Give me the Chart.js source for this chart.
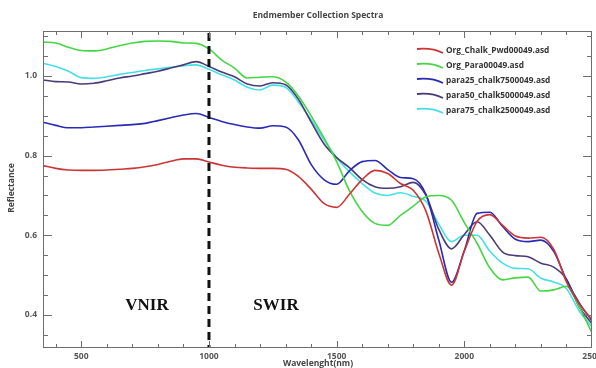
<!DOCTYPE html>
<html>
<head>
<meta charset="utf-8">
<script src="https://cdn.jsdelivr.net/npm/chart.js@4.4.1/dist/chart.umd.min.js"></script>
<style>
  html, body { margin: 0; padding: 0; background: #fff; }
  #wrap { width: 596px; height: 368px; }
</style>
</head>
<body>
<div id="wrap"><canvas id="spectra" width="596" height="368"></canvas></div>
<script>
// wavelengths (nm) shared by all spectra
const wavelengths = [350, 400, 450, 500, 550, 600, 650, 700, 750, 800, 850, 900, 950, 1000,
  1050, 1100, 1150, 1200, 1250, 1300, 1350, 1400, 1450, 1500, 1550, 1600, 1650, 1700, 1750,
  1800, 1850, 1900, 1950, 2000, 2050, 2100, 2150, 2200, 2250, 2300, 2350, 2400, 2450, 2500];

const orgChalk = [0.775, 0.768, 0.764, 0.763, 0.763, 0.764, 0.766, 0.768, 0.772, 0.778, 0.786, 0.792, 0.792, 0.784,
  0.776, 0.771, 0.769, 0.768, 0.768, 0.766, 0.748, 0.716, 0.680, 0.670, 0.703, 0.740, 0.763, 0.755, 0.730,
  0.713, 0.660, 0.555, 0.475, 0.560, 0.635, 0.652, 0.625, 0.598, 0.593, 0.595, 0.565, 0.483, 0.428, 0.388];

const orgPara = [1.085, 1.083, 1.072, 1.064, 1.063, 1.068, 1.076, 1.083, 1.087, 1.088, 1.087, 1.083, 1.082, 1.068,
  1.040, 1.020, 0.995, 0.997, 0.998, 0.985, 0.950, 0.900, 0.845, 0.785, 0.712, 0.660, 0.630, 0.625, 0.650,
  0.673, 0.697, 0.700, 0.688, 0.632, 0.580, 0.518, 0.488, 0.493, 0.495, 0.460, 0.463, 0.472, 0.420, 0.355];

const para25 = [0.884, 0.876, 0.870, 0.870, 0.872, 0.874, 0.876, 0.878, 0.881, 0.888, 0.895, 0.902, 0.906, 0.896,
  0.886, 0.878, 0.872, 0.869, 0.875, 0.872, 0.840, 0.778, 0.740, 0.728, 0.762, 0.785, 0.788, 0.765, 0.745,
  0.742, 0.702, 0.588, 0.482, 0.562, 0.655, 0.658, 0.622, 0.590, 0.584, 0.588, 0.560, 0.488, 0.430, 0.385];

const para50 = [0.990, 0.986, 0.985, 0.980, 0.982, 0.988, 0.995, 1.000, 1.006, 1.012, 1.020, 1.028, 1.036, 1.024,
  1.010, 0.998, 0.980, 0.975, 0.983, 0.978, 0.942, 0.885, 0.830, 0.795, 0.770, 0.740, 0.722, 0.718, 0.722,
  0.733, 0.700, 0.615, 0.566, 0.602, 0.634, 0.600, 0.558, 0.549, 0.546, 0.530, 0.520, 0.490, 0.420, 0.378];

const para75 = [1.032, 1.024, 1.012, 0.996, 0.994, 0.998, 1.004, 1.009, 1.014, 1.018, 1.022, 1.026, 1.028, 1.017,
  1.003, 0.990, 0.972, 0.965, 0.977, 0.972, 0.935, 0.890, 0.840, 0.795, 0.760, 0.730, 0.706, 0.700, 0.707,
  0.698, 0.685, 0.628, 0.584, 0.600, 0.600, 0.560, 0.530, 0.517, 0.516, 0.492, 0.483, 0.466, 0.410, 0.370];

const seriesNames = ['Org_Chalk_Pwd00049.asd', 'Org_Para00049.asd', 'para25_chalk7500049.asd',
  'para50_chalk5000049.asd', 'para75_chalk2500049.asd'];
const seriesColors = ['#cc3535', '#45d645', '#2a2ab8', '#4b3a78', '#45e0e6'];
const seriesValues = [orgChalk, orgPara, para25, para50, para75];

const xTickLabels = [500, 1000, 1500, 2000, 2500];
const yTickLabels = [0.4, 0.6, 0.8, 1.0];
const regionSplit = 1000;

const datasets = seriesValues.map((vals, i) => ({
  label: seriesNames[i],
  data: wavelengths.map((w, j) => ({ x: w, y: vals[j] })),
  borderColor: seriesColors[i],
  borderWidth: 1.6,
  pointRadius: 0,
  cubicInterpolationMode: 'monotone',
  fill: false
}));

// frame, inner ticks, titles, legend, VNIR/SWIR split
const decor = {
  id: 'decor',
  afterDatasetsDraw(chart) {
    const { ctx, chartArea: a, scales: { x, y } } = chart;
    ctx.save();

    // dashed split line
    const sx = x.getPixelForValue(regionSplit);
    ctx.strokeStyle = '#111';
    ctx.lineWidth = 3;
    ctx.setLineDash([8, 5]);
    ctx.beginPath();
    ctx.moveTo(sx, a.top + 2);
    ctx.lineTo(sx, a.bottom);
    ctx.stroke();
    ctx.setLineDash([]);

    // frame
    ctx.strokeStyle = '#6e6e6e';
    ctx.lineWidth = 1;
    ctx.strokeRect(a.left + 0.5, a.top + 0.5, a.right - a.left - 1, a.bottom - a.top - 1);

    // x ticks every 100 nm, bottom and top
    ctx.beginPath();
    for (let w = 400; w < 2500; w += 100) {
      const px = Math.round(x.getPixelForValue(w)) + 0.5;
      const len = w % 500 === 0 ? 7 : 4;
      ctx.moveTo(px, a.bottom); ctx.lineTo(px, a.bottom - len);
      ctx.moveTo(px, a.top); ctx.lineTo(px, a.top + len);
    }
    // y ticks every 0.05, left and right
    for (let k = 7; k <= 22; k++) {
      const v = k * 0.05;
      const py = Math.round(y.getPixelForValue(v)) + 0.5;
      const len = k % 4 === 0 ? 9 : 5;
      ctx.moveTo(a.left, py); ctx.lineTo(a.left + len, py);
      ctx.moveTo(a.right, py); ctx.lineTo(a.right - len, py);
    }
    ctx.stroke();

    // region labels
    ctx.fillStyle = '#111';
    ctx.font = 'bold 17px "Liberation Serif"';
    ctx.textAlign = 'center';
    ctx.textBaseline = 'middle';
    ctx.fillText('VNIR', 147, 306);
    ctx.fillText('SWIR', 276, 306);

    // titles
    ctx.fillStyle = '#444';
    ctx.font = 'bold 8.5px "Open Sans"';
    ctx.fillText('Endmember Collection Spectra', 318, 16);
    ctx.fillText('Wavelenght(nm)', 318, 364);
    ctx.save();
    ctx.translate(12, 188);
    ctx.rotate(-Math.PI / 2);
    ctx.fillText('Reflectance', 0, 0);
    ctx.restore();

    // legend
    ctx.textAlign = 'left';
    ctx.font = 'bold 8.3px "Open Sans"';
    seriesNames.forEach((name, i) => {
      const ly = 51 + i * 15;
      ctx.strokeStyle = seriesColors[i];
      ctx.lineWidth = 1.8;
      ctx.beginPath();
      ctx.moveTo(417, ly - 2);
      ctx.bezierCurveTo(427, ly - 3, 435, ly - 2, 443, ly + 2);
      ctx.stroke();
      ctx.fillStyle = '#333';
      ctx.fillText(name, 446, ly);
    });

    ctx.restore();
  }
};

new Chart(document.getElementById('spectra'), {
  type: 'line',
  data: { datasets },
  options: {
    responsive: false,
    animation: false,
    layout: { padding: { top: 31, right: 4, left: 0, bottom: 0 } },
    plugins: { legend: { display: false }, title: { display: false }, tooltip: { enabled: false } },
    scales: {
      x: {
        type: 'linear',
        min: 350,
        max: 2500,
        grid: { display: false, drawTicks: false },
        border: { display: false },
        ticks: { color: '#555', font: { family: 'Open Sans', size: 8.5, weight: 'bold' }, padding: 3, maxRotation: 0, autoSkip: false, callback: v => String(v) },
        afterBuildTicks: s => { s.ticks = xTickLabels.map(v => ({ value: v })); },
        afterFit: s => { s.height = 20; s.paddingLeft = 0; s.paddingRight = 0; }
      },
      y: {
        min: 0.317,
        max: 1.113,
        grid: { display: false, drawTicks: false },
        border: { display: false },
        ticks: { color: '#555', font: { family: 'Open Sans', size: 8.5, weight: 'bold' }, padding: 6, callback: v => v.toFixed(1) },
        afterBuildTicks: s => { s.ticks = yTickLabels.map(v => ({ value: v })); },
        afterFit: s => { s.width = 43; s.paddingTop = 0; s.paddingBottom = 0; }
      }
    }
  },
  plugins: [decor]
});
</script>
</body>
</html>
